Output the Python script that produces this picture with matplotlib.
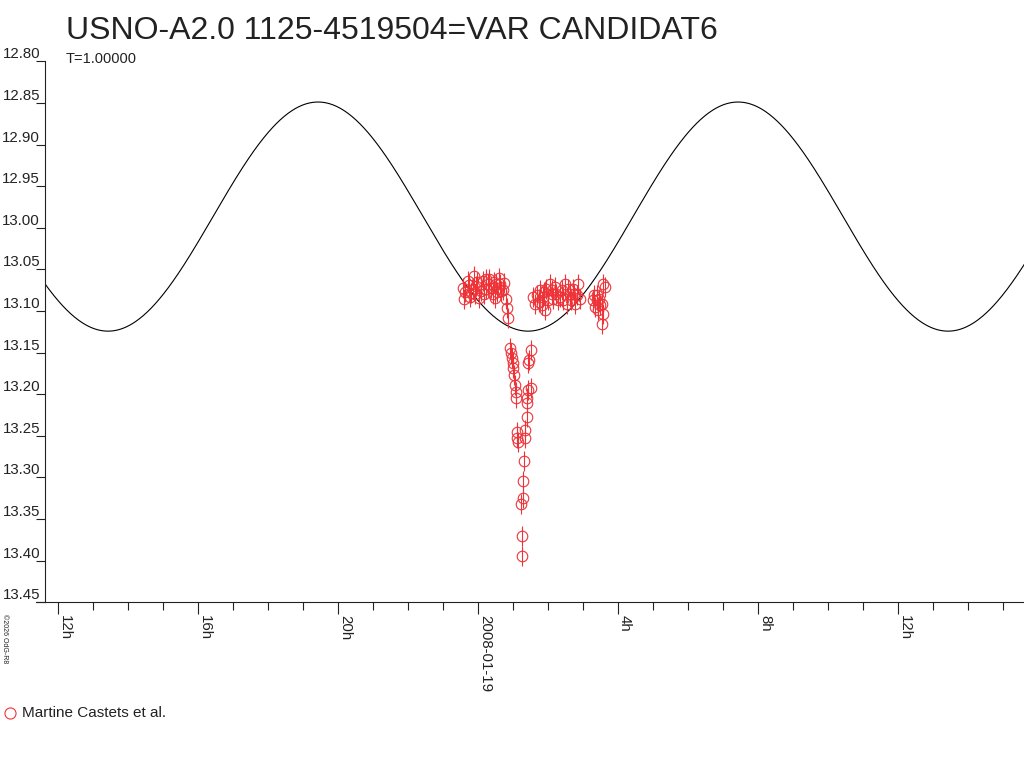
import numpy as np
import matplotlib
matplotlib.use("Agg")
import matplotlib.pyplot as plt
from matplotlib.lines import Line2D

plt.rcParams['font.family'] = ['Liberation Sans', 'DejaVu Sans']

# hours relative to 2008-01-19 00:00 UT, magnitudes
hours = [
    # first group
    -0.437, -0.391, -0.294, -0.200, -0.106, -0.057, 0.037, 0.134, 0.229, 0.323,
    0.420, 0.514, 0.609, 0.657, 0.751, 0.800, 0.820, 0.849,
    -0.371, -0.257, -0.143, -0.029, 0.086, 0.171, 0.286, 0.371, 0.457, 0.543,
    0.629, 0.714, -0.229, 0.229, 0.486, -0.086,
    # dip
    0.914, 0.943, 0.963, 0.991, 1.009, 1.029, 1.057, 1.077, 1.086, 1.106,
    1.106, 1.151, 1.229, 1.249, 1.266, 1.294, 1.294, 1.323, 1.343, 1.343,
    1.391, 1.409, 1.409, 1.437, 1.437, 1.466, 1.506, 1.514,
    # second group
    1.580, 1.629, 1.771, 1.820, 1.914, 2.057, 2.106, 2.200, 2.294, 2.391,
    2.486, 2.534, 2.629, 2.723, 2.771, 2.866, 2.914, 2.820,
    1.686, 1.857, 1.943, 2.000, 2.143, 2.229, 2.343, 2.429, 2.571, 2.657,
    2.743, 1.743, 1.886, 2.114,
    # third group
    3.294, 3.343, 3.391, 3.437, 3.534, 3.580, 3.629, 3.580, 3.534, 3.486,
    3.400, 3.457, 3.314,
]
mags = [
    13.072, 13.086, 13.064, 13.078, 13.058, 13.070, 13.084, 13.064, 13.074, 13.062,
    13.080, 13.068, 13.060, 13.076, 13.066, 13.086, 13.096, 13.108,
    13.077, 13.069, 13.074, 13.065, 13.076, 13.080, 13.068, 13.072, 13.065, 13.077,
    13.067, 13.075, 13.083, 13.062, 13.084, 13.080,
    13.144, 13.150, 13.156, 13.162, 13.168, 13.177, 13.189, 13.197, 13.204, 13.245,
    13.253, 13.257, 13.332, 13.370, 13.394, 13.304, 13.325, 13.280, 13.243, 13.253,
    13.227, 13.204, 13.210, 13.162, 13.195, 13.159, 13.147, 13.192,
    13.083, 13.091, 13.075, 13.093, 13.099, 13.067, 13.079, 13.071, 13.087, 13.075,
    13.067, 13.091, 13.079, 13.073, 13.091, 13.067, 13.085, 13.081,
    13.081, 13.083, 13.073, 13.087, 13.085, 13.079, 13.083, 13.087, 13.073, 13.087,
    13.080, 13.089, 13.077, 13.075,
    13.087, 13.095, 13.081, 13.099, 13.091, 13.067, 13.071, 13.103, 13.115, 13.093,
    13.087, 13.085, 13.081,
]
mag_err = 0.012

# fitted light curve model
period_h = 12.0
t_max_h = -4.57
mean_mag = 12.9864
amp_mag = 0.1377

x_ticks = [-12, -8, -4, 0, 4, 8, 12]
x_labels = ['12h', '16h', '20h', '2008-01-19', '4h', '8h', '12h']
y_ticks = np.arange(12.80, 13.4501, 0.05)

red = '#ee3338'
ink = '#222222'

fig = plt.figure(figsize=(10.24, 7.68), dpi=100)
ax = fig.add_axes([45 / 1024, (768 - 602.3) / 768, 979 / 1024, 540.8 / 768])

tt = np.linspace(-12.4, 15.7, 1000)
ax.plot(tt, mean_mag - amp_mag * np.cos(2 * np.pi * (tt - t_max_h) / period_h),
        color='black', lw=0.8)

ax.errorbar(hours, mags, yerr=mag_err, fmt='o', mfc='none', mec=red, ecolor=red,
            ms=7.6, mew=0.8, elinewidth=0.8, capsize=0)

ax.set_xlim(-12.371, 15.6)
ax.set_ylim(13.45, 12.80)

ax.spines['top'].set_visible(False)
ax.spines['right'].set_visible(False)
for s in ('left', 'bottom'):
    ax.spines[s].set_linewidth(0.8)
    ax.spines[s].set_color(ink)

ax.set_yticks(y_ticks)
ax.set_yticklabels(['%.2f' % v for v in y_ticks])
ax.tick_params(axis='y', direction='out', length=6.5, width=0.8, pad=-2.9,
               labelsize=10.8, colors=ink)
for lab in ax.get_yticklabels():
    lab.set_verticalalignment('bottom')

ax.set_xticks(x_ticks)
ax.set_xticks(np.arange(-12, 16, 1), minor=True)
ax.set_xticklabels(x_labels, rotation=-90, ha='left', va='top')
ax.tick_params(axis='x', which='major', direction='out', length=8.6, width=0.8,
               pad=0.8, labelsize=10.8, colors=ink)
ax.tick_params(axis='x', which='minor', direction='out', length=5.8, width=0.8,
               colors=ink)

# x axis line runs a little past the y axis on the left
fig.add_artist(Line2D([36 / 1024, 45 / 1024], [1 - 602.3 / 768] * 2, lw=0.8,
                      color=ink, transform=fig.transFigure))

fig.text(66 / 1024, 1 - 39 / 768, 'USNO-A2.0 1125-4519504=VAR CANDIDAT6',
         fontsize=23, va='baseline', ha='left', color=ink)
fig.text(66 / 1024, 1 - 63 / 768, 'T=1.00000', fontsize=10.5, va='baseline',
         ha='left', color=ink)
fig.text(1 / 1024, 1 - 614 / 768, '\u00a92026 OdG-R8', fontsize=5, rotation=-90,
         ha='left', va='top', color=ink)

fig.add_artist(Line2D([10 / 1024], [1 - 713 / 768], marker='o', mfc='none',
                      mec=red, ms=8, mew=0.8, transform=fig.transFigure))
fig.text(22 / 1024, 1 - 713 / 768, 'Martine Castets et al.', fontsize=11,
         va='center', ha='left', color=ink)

fig.savefig('out.png', dpi=100)
